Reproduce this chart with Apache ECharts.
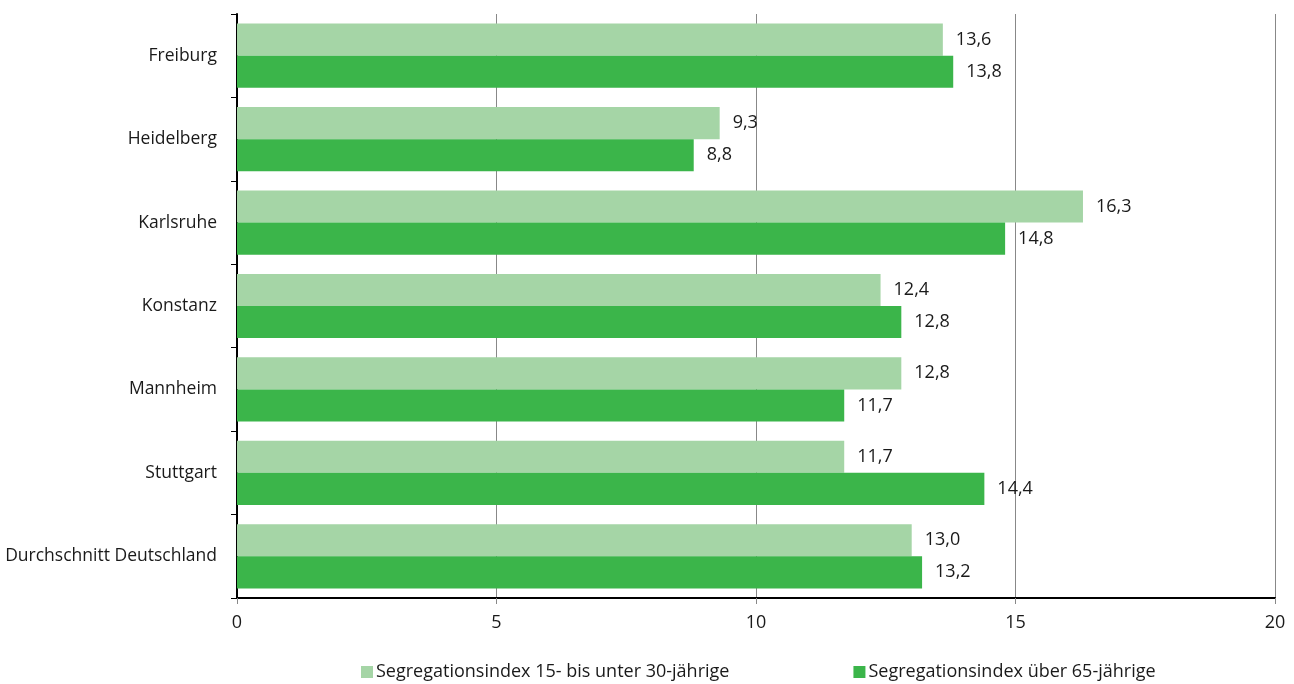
<!DOCTYPE html>
<html>
<head>
<meta charset="utf-8">
<script src="https://cdn.jsdelivr.net/npm/echarts@6/dist/echarts.min.js"></script>
<style>
  html, body { margin: 0; padding: 0; background: #fff; }
  #chart { width: 1294px; height: 684px; }
</style>
</head>
<body>
<div id="chart"></div>
<script>
const categories = ['Freiburg', 'Heidelberg', 'Karlsruhe', 'Konstanz', 'Mannheim', 'Stuttgart', 'Durchschnitt Deutschland'];
const youngValues = [13.6, 9.3, 16.3, 12.4, 12.8, 11.7, 13.0];
const oldValues = [13.8, 8.8, 14.8, 12.8, 11.7, 14.4, 13.2];
const seriesNames = ['Segregationsindex 15- bis unter 30-jährige', 'Segregationsindex über 65-jährige'];

const FONT = 'Open Sans';
const fmt = v => v.toFixed(1).replace('.', ',');

const chart = echarts.init(document.getElementById('chart'), null, { renderer: 'canvas' });
const labelStyle = {
  show: true,
  position: 'right',
  distance: 13,
  color: '#1a1a1a',
  fontFamily: FONT,
  fontSize: 18,
  formatter: p => fmt(p.value)
};
chart.setOption({
  animation: false,
  textStyle: { fontFamily: FONT },
  grid: { left: 237, right: 19, top: 14, bottom: 86, containLabel: false },
  legend: {
    left: 356,
    bottom: -2,
    itemWidth: 12,
    itemHeight: 12,
    itemGap: 124,
    icon: 'rect',
    textStyle: { fontFamily: FONT, fontSize: 18, color: '#1a1a1a', padding: [0, 0, 0, -2] },
    data: seriesNames
  },
  xAxis: {
    type: 'value',
    min: 0,
    max: 20,
    interval: 5,
    axisLine: { show: true, lineStyle: { color: '#000', width: 2 } },
    axisTick: { show: true, length: 6, lineStyle: { color: '#888' } },
    splitLine: { show: true, lineStyle: { color: '#888', width: 1 } },
    axisLabel: { fontFamily: FONT, fontSize: 18, color: '#1a1a1a', margin: 16 }
  },
  yAxis: {
    type: 'category',
    inverse: true,
    data: categories,
    axisLine: { show: true, lineStyle: { color: '#000', width: 2 } },
    axisTick: { show: true, length: 6, lineStyle: { color: '#000' } },
    axisLabel: { fontFamily: FONT, fontSize: 17.5, color: '#1a1a1a', margin: 20 }
  },
  series: [
    {
      name: seriesNames[0],
      type: 'bar',
      data: youngValues,
      barGap: '0%',
      barCategoryGap: '23%',
      itemStyle: { color: '#a5d5a6' },
      label: labelStyle
    },
    {
      name: seriesNames[1],
      type: 'bar',
      data: oldValues,
      barGap: '0%',
      barCategoryGap: '23%',
      itemStyle: { color: '#3bb54a' },
      label: labelStyle
    }
  ]
});
</script>
</body>
</html>
